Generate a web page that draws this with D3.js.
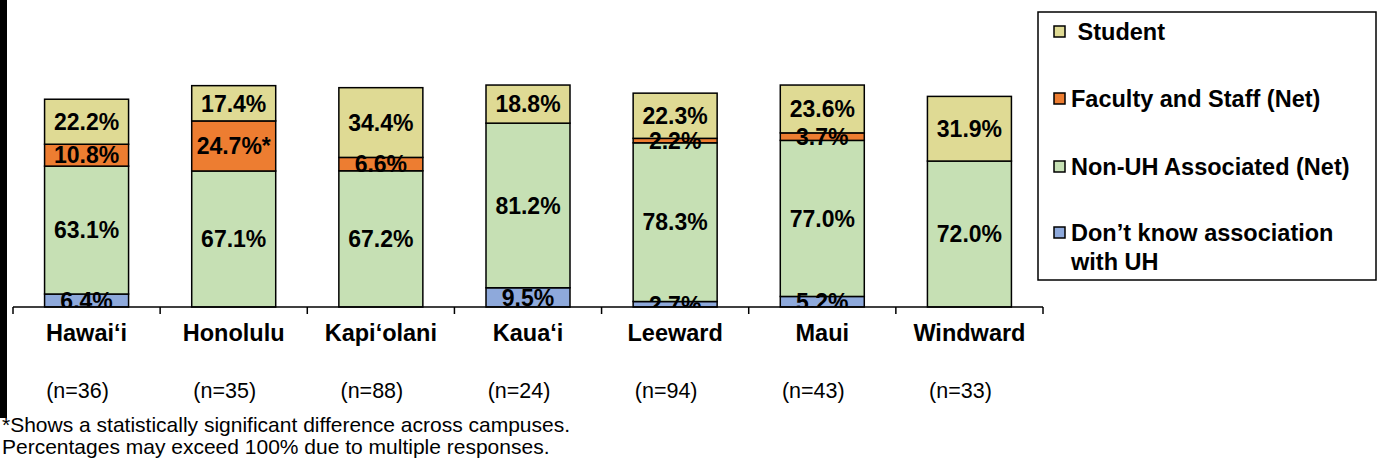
<!DOCTYPE html>
<html><head><meta charset="utf-8">
<script src="https://cdn.jsdelivr.net/npm/d3@7"></script>
<style>body{margin:0;background:#fff}svg{display:block;font-family:Arial,"Liberation Sans",sans-serif}</style>
</head><body><svg id="c" width="1383" height="470"></svg>
<script>
const campuses = ["Hawai\u2018i","Honolulu","Kapi\u2018olani","Kaua\u2018i","Leeward","Maui","Windward"];
const sampleSizes = ["(n=36)","(n=35)","(n=88)","(n=24)","(n=94)","(n=43)","(n=33)"];
const dontKnow = [6.4, null, null, 9.5, 2.7, 5.2, null];
const nonUH = [63.1, 67.1, 67.2, 81.2, 78.3, 77.0, 72.0];
const faculty = [10.8, 24.7, 6.6, null, 2.2, 3.7, null];
const student = [22.2, 17.4, 34.4, 18.8, 22.3, 23.6, 31.9];
const significant = [false, true, false, false, false, false, false];
const seriesNames = ["Don\u2019t know association with UH","Non-UH Associated (Net)","Faculty and Staff (Net)","Student"];
const seriesColors = ["#8EA9DB","#C6E0B4","#ED7D31","#DFDA94"];
const footnotes = ["*Shows a statistically significant difference across campuses.","Percentages may exceed 100% due to multiple responses."];

const svg = d3.select("#c");
const left = 13, right = 1043, y0 = 307;
const x = d3.scaleBand().domain(campuses).range([left, right]).paddingInner(0).paddingOuter(0);
const y = d3.scaleLinear().domain([0, 100]).range([y0, y0 - 202.7]);
const barW = 84;

svg.append("rect").attr("x",0).attr("y",0).attr("width",7).attr("height",418).attr("fill","#000");

const series = [dontKnow, nonUH, faculty, student];
const defs = svg.append("defs");
defs.append("clipPath").attr("id","plotclip").append("rect").attr("x",0).attr("y",0).attr("width",1040).attr("height",y0);

const gBars = svg.append("g");
const gLab = svg.append("g").attr("clip-path","url(#plotclip)");
campuses.forEach((c, i) => {
  let cum = 0;
  const cx = x(c) + x.bandwidth()/2;
  series.forEach((s, k) => {
    const v = s[i];
    if (v == null) return;
    const yb = y(cum), yt = y(cum + v);
    gBars.append("rect").attr("x", cx - barW/2).attr("y", yt).attr("width", barW).attr("height", yb - yt)
      .attr("fill", seriesColors[k]).attr("stroke","#000").attr("stroke-width",1.5);
    let txt = v.toFixed(1) + "%";
    if (k === 2 && significant[i]) txt += "*";
    gLab.append("text").attr("x", cx).attr("y", (yb + yt)/2).attr("dy","0.36em").attr("text-anchor","middle")
      .attr("font-size",23).attr("font-weight","bold").attr("fill","#000").text(txt);
    cum += v;
  });
});

// axis
const axis = d3.axisBottom(x).tickSize(0).tickFormat("");
const ga = svg.append("g").attr("transform",`translate(0,${y0})`).call(axis);
ga.select(".domain").attr("stroke","#000").attr("stroke-width",1.5).attr("d",`M${left},0H${right}`);
const bounds = campuses.map(c => x(c)).concat([right]);
ga.selectAll(".sep").data(bounds).enter().append("line").attr("x1",d=>d).attr("x2",d=>d).attr("y1",0).attr("y2",7)
  .attr("stroke","#000").attr("stroke-width",1.5);

svg.append("g").selectAll("text").data(campuses).enter().append("text")
  .attr("x", d => x(d) + x.bandwidth()/2).attr("y", 341).attr("text-anchor","middle")
  .attr("font-size",23.5).attr("font-weight","bold").text(d => d);
svg.append("g").selectAll("text").data(sampleSizes).enter().append("text")
  .attr("x", (d,i) => x(campuses[i]) + x.bandwidth()/2 - 9).attr("y", 398).attr("text-anchor","middle")
  .attr("font-size",21.5).text(d => d);

svg.append("g").selectAll("text").data(footnotes).enter().append("text")
  .attr("x", 2).attr("y", (d,i) => 432 + i*21.5).attr("font-size",21).text(d => d);

// legend
const lg = svg.append("g");
lg.append("rect").attr("x",1038).attr("y",12).attr("width",338).attr("height",268).attr("fill","#fff").attr("stroke","#000").attr("stroke-width",1.5);
const legendItems = [
  {k:3, lines:["\u00a0Student"], y:40},
  {k:2, lines:["Faculty and Staff (Net)"], y:107},
  {k:1, lines:["Non-UH Associated (Net)"], y:175},
  {k:0, lines:["Don\u2019t know association","with UH"], y:241}
];
legendItems.forEach(it => {
  lg.append("rect").attr("x",1054).attr("y",it.y-14).attr("width",11).attr("height",11)
    .attr("fill",seriesColors[it.k]).attr("stroke","#000").attr("stroke-width",1.5);
  const t = lg.append("text").attr("x",1071).attr("y",it.y).attr("font-size",23.5).attr("font-weight","bold");
  it.lines.forEach((l, j) => t.append("tspan").attr("x",1071).attr("y", it.y + j*29).text(l));
});
</script></body></html>
